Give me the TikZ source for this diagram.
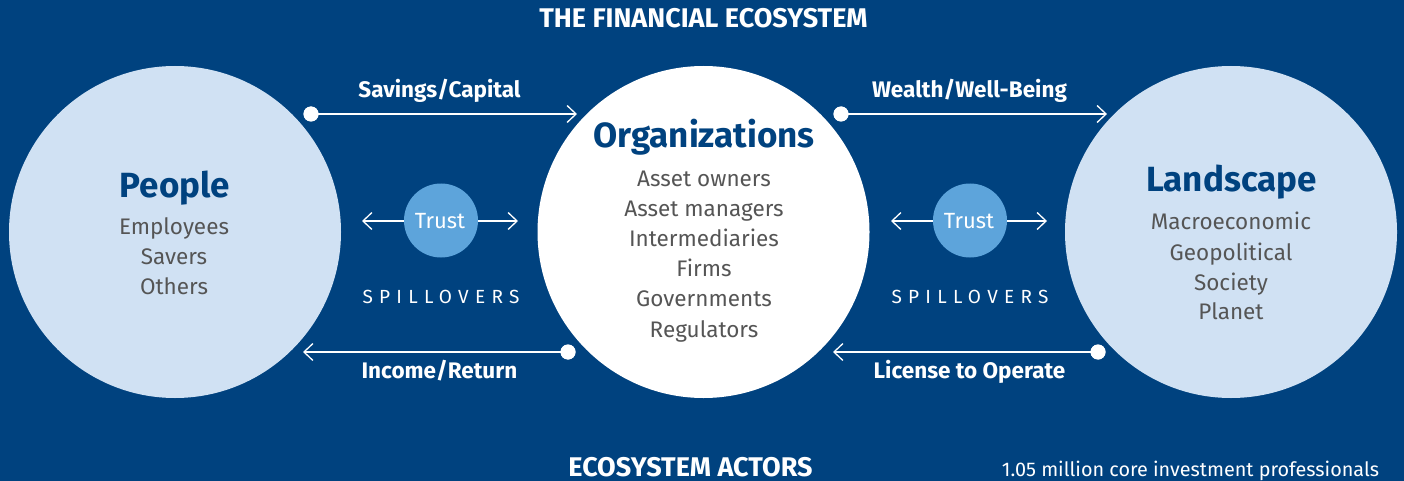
\documentclass[tikz,border=0pt]{standalone}
\usepackage{fontspec}
\setmainfont{Fira Sans}
\usetikzlibrary{arrows.meta}
\definecolor{navy}{RGB}{0,66,127}
\definecolor{lightc}{RGB}{208,225,243}
\definecolor{trustc}{RGB}{93,164,219}
\definecolor{greyt}{RGB}{85,85,85}
\begin{document}
\begin{tikzpicture}[x=1pt,y=-1pt,
  bigcirc/.style={circle,inner sep=0pt,minimum size=332pt},
  heading/.style={anchor=base,inner sep=0pt,text=navy,font=\fontsize{35}{40}\selectfont\bfseries},
  item/.style={anchor=base,inner sep=0pt,text=greyt,font=\fontsize{22.5}{26}\selectfont},
  flowlabel/.style={anchor=base,inner sep=0pt,text=white,font=\fontsize{22.5}{26}\selectfont\bfseries},
  sectiontitle/.style={anchor=base,inner sep=0pt,text=white,font=\fontsize{27}{31}\selectfont\bfseries},
  dotnode/.style={circle,fill=white,inner sep=0pt,minimum size=15pt},
  flow/.style={draw=white,line width=1.3pt,-{Straight Barb[length=9pt,width=17pt,line width=1.3pt]}},
  trustnode/.style={circle,fill=trustc,inner sep=0pt,minimum size=74pt},
  trusttext/.style={anchor=base,inner sep=0pt,text=white,font=\fontsize{22}{26}\selectfont},
  spill/.style={anchor=base,inner sep=0pt,text=white,font=\fontsize{19}{22}\selectfont\addfontfeature{LetterSpace=33}}
]
\fill[navy] (0,0) rectangle (1404,481);
\useasboundingbox (0,0) rectangle (1404,481);

% titles
\node[sectiontitle] (title) at (703.5,28) {THE FINANCIAL ECOSYSTEM};
\node[sectiontitle] (actors) at (690.5,476) {ECOSYSTEM ACTORS};
\node[anchor=base,inner sep=0pt,text=white,font=\fontsize{19.8}{23}\selectfont] (prof) at (1190.5,476) {1.05 million core investment professionals};

% big circles
\node[bigcirc,fill=lightc] (people) at (175,232) {};
\node[bigcirc,fill=white] (orgs) at (703.5,232) {};
\node[bigcirc,fill=lightc] (land) at (1231,232) {};

% People
\node[heading] (peopleT) at (175,197) {People};
\node[item] (p1) at (174,234) {Employees};
\node[item] (p2) at (174,264) {Savers};
\node[item] (p3) at (174,294) {Others};

% Organizations
\node[heading] (orgsT) at (704,148) {Organizations};
\node[item] (o1) at (704,186) {Asset owners};
\node[item] (o2) at (704,216) {Asset managers};
\node[item] (o3) at (704,246) {Intermediaries};
\node[item] (o4) at (704,276) {Firms};
\node[item] (o5) at (704,306) {Governments};
\node[item] (o6) at (704,337) {Regulators};

% Landscape
\node[heading] (landT) at (1231.5,192) {Landscape};
\node[item] (l1) at (1231,229) {Macroeconomic};
\node[item] (l2) at (1231,260) {Geopolitical};
\node[item] (l3) at (1231,290) {Society};
\node[item] (l4) at (1231,319) {Planet};

% flows
\node[dotnode] (d1) at (311,114) {};
\coordinate (e1) at (577,114);
\draw[flow] (d1.center) -- (e1);
\node[dotnode] at (d1) {};
\node[flowlabel] (f1) at (439.5,98) {Savings/Capital};

\node[dotnode] (d2) at (568,352) {};
\coordinate (e2) at (303,352);
\draw[flow] (d2.center) -- (e2);
\node[dotnode] at (d2) {};
\node[flowlabel] (f2) at (439.5,378) {Income/Return};

\node[dotnode] (d3) at (841,114) {};
\coordinate (e3) at (1107,114);
\draw[flow] (d3.center) -- (e3);
\node[dotnode] at (d3) {};
\node[flowlabel] (f3) at (969.5,98) {Wealth/Well-Being};

\node[dotnode] (d4) at (1098,352) {};
\coordinate (e4) at (833,352);
\draw[flow] (d4.center) -- (e4);
\node[dotnode] at (d4) {};
\node[flowlabel] (f4) at (969.5,378) {License to Operate};

% trust
\node[trustnode] (t1) at (441,220.5) {};
\node[trusttext] (t1T) at (440,228) {Trust};
\coordinate (t1a) at (362,221);
\coordinate (t1b) at (518,221);
\draw[flow] (t1.west|-t1a) -- (t1a);
\draw[flow] (t1.east|-t1b) -- (t1b);
\node[spill] (s1) at (441,303) {SPILLOVERS};

\node[trustnode] (t2) at (970,220.5) {};
\node[trusttext] (t2T) at (969,228) {Trust};
\coordinate (t2a) at (891,221);
\coordinate (t2b) at (1047,221);
\draw[flow] (t2.west|-t2a) -- (t2a);
\draw[flow] (t2.east|-t2b) -- (t2b);
\node[spill] (s2) at (970,303) {SPILLOVERS};
\end{tikzpicture}
\end{document}
